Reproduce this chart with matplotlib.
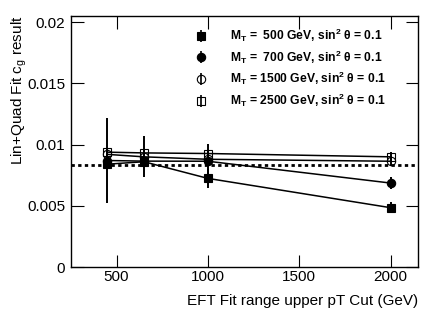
import numpy as np
import matplotlib
matplotlib.use('Agg')
import matplotlib.pyplot as plt
from matplotlib.ticker import FuncFormatter, MultipleLocator

plt.rcParams['font.family'] = ['Liberation Sans', 'DejaVu Sans']
plt.rcParams['mathtext.fontset'] = 'custom'
plt.rcParams['mathtext.rm'] = 'Liberation Sans'
plt.rcParams['mathtext.bf'] = 'Liberation Sans:bold'

# Datos
pt_cut = [450, 650, 1000, 2000]
cg_500 = [0.0084, 0.0086, 0.00724, 0.00485]
err_500 = [0.0003, 0.0003, 0.0008, 0.00045]
cg_700 = [0.0087, 0.00865, 0.00864, 0.00686]
err_700 = [0.0035, 0.0003, 0.0014, 0.0005]
cg_1500 = [0.0092, 0.0090, 0.0088, 0.00864]
err_1500 = [0.0003, 0.00167, 0.0003, 0.0004]
cg_2500 = [0.00938, 0.00932, 0.00927, 0.0090]
err_2500 = [0.0003, 0.0003, 0.0003, 0.0004]
reference_cg = 0.00837

labels = [r'M$_\mathbf{T}$ =  500 GeV, sin$^\mathbf{2}$ θ = 0.1',
          r'M$_\mathbf{T}$ =  700 GeV, sin$^\mathbf{2}$ θ = 0.1',
          r'M$_\mathbf{T}$ = 1500 GeV, sin$^\mathbf{2}$ θ = 0.1',
          r'M$_\mathbf{T}$ = 2500 GeV, sin$^\mathbf{2}$ θ = 0.1']

fig = plt.figure(figsize=(4.4, 3.18), dpi=100)
ax = fig.add_axes([0.161, 0.16, 0.789, 0.79])

series = [(cg_500, err_500, 's', 'k'), (cg_700, err_700, 'o', 'k'),
          (cg_1500, err_1500, 'o', 'none'), (cg_2500, err_2500, 's', 'none')]
handles = []
for (vals, errs, mk, fc), lab in zip(series, labels):
    ax.errorbar(pt_cut, vals, yerr=errs, marker=mk, markersize=6,
                markerfacecolor=fc, markeredgecolor='k', markeredgewidth=0.8,
                color='k', linewidth=1.1, elinewidth=1.4, capsize=0)
    # entrada de leyenda: solo marcador con barra vertical
    h = ax.errorbar([np.nan], [np.nan], yerr=[0.001], marker=mk, markersize=6,
                    markerfacecolor=fc, markeredgecolor='k', markeredgewidth=0.8,
                    color='k', linestyle='none', elinewidth=1.2, capsize=0, label=lab)
    handles.append(h)

ax.axhline(reference_cg, color='k', linestyle=(0, (1.2, 1.2)), linewidth=2)

ax.set_xlim(250, 2150)
ax.set_ylim(0, 0.0205)
ax.xaxis.set_major_locator(MultipleLocator(500))
ax.yaxis.set_major_locator(MultipleLocator(0.005))
ax.yaxis.set_major_formatter(FuncFormatter(lambda v, p: '%g' % round(v, 4)))
ax.tick_params(direction='in', length=9, width=0.8, top=True, right=True,
               labelsize=11, pad=4)
ax.tick_params(axis='x', pad=2)
for s in ax.spines.values():
    s.set_linewidth(1.0)

ax.set_xlabel('EFT Fit range upper pT Cut (GeV)', fontsize=11, loc='right', labelpad=7)
ax.set_ylabel(r'Lin+Quad Fit c$_\mathregular{g}$ result', fontsize=11, loc='top', labelpad=-1)

leg = ax.legend(handles=handles, loc='upper left', bbox_to_anchor=(0.33, 1.0),
                frameon=False, handlelength=0.8, handletextpad=2.0,
                labelspacing=0.36, prop={'weight': 'bold', 'size': 8.7})

plt.savefig('out.png', dpi=100)
